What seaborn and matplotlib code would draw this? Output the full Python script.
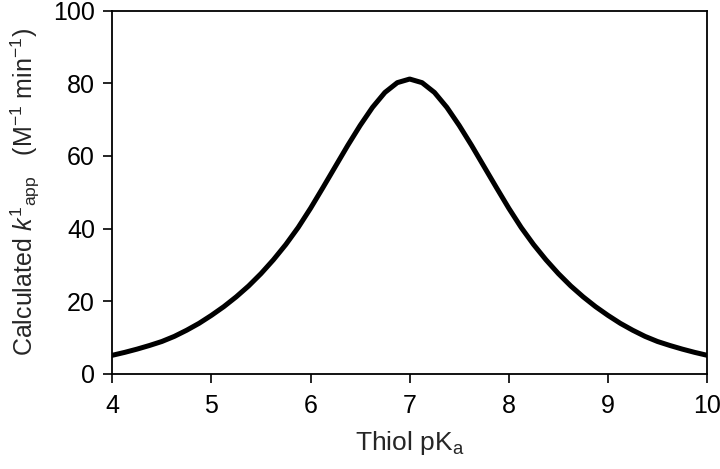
import numpy as np
import pandas as pd
import matplotlib
matplotlib.use("Agg")
import matplotlib.pyplot as plt
import seaborn as sns

# values (every 0.125 pKa unit)
pka = [4.0, 4.125, 4.25, 4.375, 4.5, 4.625, 4.75, 4.875,
       5.0, 5.125, 5.25, 5.375, 5.5, 5.625, 5.75, 5.875,
       6.0, 6.125, 6.25, 6.375, 6.5, 6.625, 6.75, 6.875,
       7.0, 7.125, 7.25, 7.375, 7.5, 7.625, 7.75, 7.875,
       8.0, 8.125, 8.25, 8.375, 8.5, 8.625, 8.75, 8.875,
       9.0, 9.125, 9.25, 9.375, 9.5, 9.625, 9.75, 9.875, 10.0]
kapp = [5.1, 5.9, 6.8, 7.8, 8.9, 10.3, 12.0, 13.9,
        16.1, 18.5, 21.2, 24.2, 27.6, 31.4, 35.6, 40.3,
        45.6, 51.3, 57.1, 62.9, 68.4, 73.4, 77.5, 80.2,
        81.2, 80.2, 77.5, 73.4, 68.4, 62.9, 57.1, 51.3,
        45.6, 40.3, 35.6, 31.4, 27.6, 24.2, 21.2, 18.5,
        16.1, 13.9, 12.0, 10.3, 8.9, 7.8, 6.8, 5.9, 5.1]
xticks = [4, 5, 6, 7, 8, 9, 10]
yticks = [0, 20, 40, 60, 80, 100]

df = pd.DataFrame({"pKa": pka, "kapp": kapp})

sns.set_style("ticks")
plt.rcParams['font.family'] = ['Liberation Sans', 'DejaVu Sans']
plt.rcParams['mathtext.fontset'] = 'custom'
plt.rcParams['mathtext.rm'] = 'Liberation Sans'
plt.rcParams['mathtext.it'] = 'Liberation Sans:italic'
plt.rcParams['mathtext.bf'] = 'Liberation Sans:bold'

fig = plt.figure(figsize=(7.2, 4.69), dpi=100)
ax = fig.add_axes([0.156, 0.203, 0.826, 0.774])

sns.lineplot(data=df, x="pKa", y="kapp", ax=ax, color="black",
             linewidth=3.6, solid_joinstyle='round', solid_capstyle='round')

ax.set_xlim(4, 10)
ax.set_ylim(0, 100)
ax.set_xticks(xticks)
ax.set_yticks(yticks)
ax.tick_params(axis='both', direction='out', length=6.5, width=1.2,
               labelsize=18, colors='black')
ax.tick_params(axis='x', pad=8)
ax.tick_params(axis='y', pad=6)
for side in ['top', 'right', 'left', 'bottom']:
    ax.spines[side].set_visible(True)
    ax.spines[side].set_color('black')
    ax.spines[side].set_linewidth(1.3)

ax.set_xlabel(r"Thiol pK$_{\mathrm{a}}$", fontsize=19, labelpad=8)
ax.set_ylabel(r"Calculated $k^{1}{}_{\mathrm{app}}$   (M$^{-1}$ min$^{-1}$)",
              fontsize=18, labelpad=8)

fig.savefig("out.png", dpi=100)
